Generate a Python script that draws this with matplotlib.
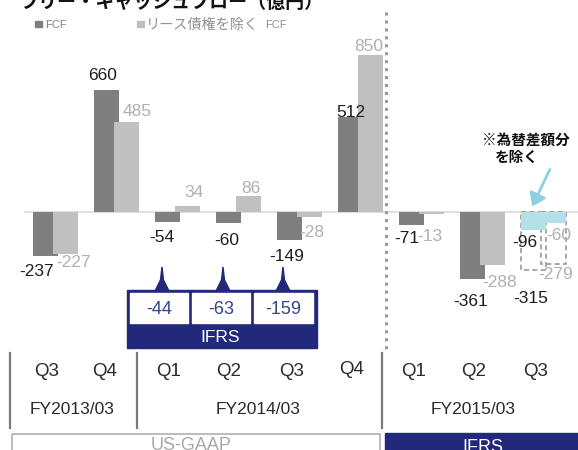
import matplotlib
matplotlib.use("Agg")
import matplotlib.pyplot as plt
from matplotlib.patches import Rectangle, Polygon, FancyArrowPatch

# ---------------- data ----------------
quarters = ["Q3", "Q4", "Q1", "Q2", "Q3", "Q4", "Q1", "Q2", "Q3"]
fiscal_years = ["FY2013/03", "FY2014/03", "FY2015/03"]
fcf = [-237, 660, -54, -60, -149, 512, -71, -361, -315]
fcf_ex_lease = [-227, 485, 34, 86, -28, 850, -13, -288, -279]
fx_excluded = [-96, -60]           # FY2015/03 Q3 excluding FX difference (FCF, ex-lease FCF)
ifrs_restated = [-44, -63, -159]   # FY2014/03 Q1-Q3 under IFRS
title = "フリー・キャッシュフロー（億円）"
legend_labels = ["FCF", "リース債権を除く", "FCF"]
note_lines = ["※為替差額分", "を除く"]
standards = ["US-GAAP", "IFRS"]

# ---------------- style ----------------
DARK = "#7f7f7f"
LIGHT = "#c0c0c0"
BLUE = "#b5e0ea"
NAVY = "#22287a"
NUM_NAVY = "#33448a"
W, H = 578, 450
PX = 61.0              # pixels per group
X0 = 55.5              # pixel x of first group centre
ZERO = 212.0           # pixel y of zero line
SC = 0.185             # pixels per unit
OFF = 10.0 / PX        # bar offset from group centre
BW = 25.0 / PX         # bar width

plt.rcParams['font.family'] = ['Liberation Sans', 'Noto Sans CJK JP']
JP = ['Noto Sans CJK JP', 'DejaVu Sans']

fig = plt.figure(figsize=(W / 100, H / 100), dpi=100)

# main data axes (positioned so zero line / scale match the reference)
ax_bot_px, ax_top_px = 300.0, 30.0
ax = fig.add_axes([0, (H - ax_bot_px) / H, 1, (ax_bot_px - ax_top_px) / H])
ax.set_xlim(-X0 / PX, (W - X0) / PX)
ax.set_ylim(-(ax_bot_px - ZERO) / SC, (ZERO - ax_top_px) / SC)
ax.axis('off')

n = len(fcf)
ax.axhline(0, xmin=25 / W, xmax=1, color="#d9d9d9", lw=1.2, zorder=1)

# solid bars for all but the last group
for i in range(n - 1):
    ax.bar(i - OFF, fcf[i], BW, color=DARK, zorder=2)
    ax.bar(i + OFF, fcf_ex_lease[i], BW, color=LIGHT, zorder=3)

# last group: dashed outlines for totals, blue bars for FX-excluded values
last = n - 1
ax.bar(last - OFF, fcf[last], BW, fill=False, edgecolor="#9a9a9a", ls=(0, (3, 2)), lw=1.2, zorder=2)
ax.bar(last + OFF, fcf_ex_lease[last], BW, fill=False, edgecolor="#9a9a9a", ls=(0, (3, 2)), lw=1.2, zorder=2)
ax.bar(last - OFF, fx_excluded[0], BW, color=BLUE, zorder=3)
ax.bar(last + OFF, fx_excluded[1], BW, color=BLUE, zorder=3)

# value labels (offsets in pixels from the bar end)
dark_off = [(-8.5, -16), (-3.5, 14), (-5.5, -16), (-2, -17), (-3, -17), (0, 5), (-5, -13), (-2, -23), (-2.5, -28)]
light_off = [(8, -9), (11, 11), (6.5, 13), (2, 8), (2, -15), (-2, 8), (-2, -22), (7, -17), (2.5, -11)]
for i in range(n):
    ax.annotate(f"{fcf[i]}", (i - OFF, fcf[i]), xytext=dark_off[i], textcoords='offset pixels',
                ha='center', va='center', fontsize=12.5, color="#1e1e1e", zorder=5)
    ax.annotate(f"{fcf_ex_lease[i]}", (i + OFF, fcf_ex_lease[i]), xytext=light_off[i],
                textcoords='offset pixels', ha='center', va='center', fontsize=12.5,
                color="#b0b0b0", zorder=5)
ax.annotate(f"{fx_excluded[0]}", (last - OFF, fx_excluded[0]), xytext=(-8.5, -13), textcoords='offset pixels',
            ha='center', va='center', fontsize=12.5, color="#1e1e1e", zorder=5)
ax.annotate(f"{fx_excluded[1]}", (last + OFF, fx_excluded[1]), xytext=(5.5, -12), textcoords='offset pixels',
            ha='center', va='center', fontsize=12.5, color="#b0b0b0", zorder=5)

# ---------------- overlay (decorations in pixel coordinates) ----------------
ov = fig.add_axes([0, 0, 1, 1])
ov.set_xlim(0, W)
ov.set_ylim(H, 0)
ov.axis('off')
ov.set_zorder(3)

# title (partially cut at the top, as in the reference)
ov.text(20, 8, title, fontsize=13.7, fontweight='bold', family=JP, ha='left', va='baseline', color="#111")

# legend
ov.add_patch(Rectangle((35, 21), 7, 6, color=DARK))
ov.text(45, 24.5, legend_labels[0], fontsize=8, color="#808080", va='center', ha='left')
ov.add_patch(Rectangle((137, 21), 7, 6, color=LIGHT))
ov.text(146, 24.5, legend_labels[1], fontsize=10.2, color="#909090", va='center', ha='left', family=JP)
ov.text(265, 25.5, legend_labels[2], fontsize=8, color="#909090", va='center', ha='left')

# dotted divider
ov.plot([386, 386], [12, 352], ls=(0, (1, 1.6)), color="#9a9a9a", lw=2.2)

# note + arrow
ov.text(526, 140, note_lines[0], fontsize=10.5, fontweight='bold', family=JP, ha='center', va='center', color="#111")
ov.text(517, 157, note_lines[1], fontsize=10.5, fontweight='bold', family=JP, ha='center', va='center', color="#111")
ov.add_patch(FancyArrowPatch((551, 167), (531, 209), arrowstyle='-|>,head_length=5,head_width=3.5',
                             color="#8fd0e0", lw=2, mutation_scale=1.5))

# IFRS restated box
ov.add_patch(Rectangle((127, 290), 190, 58, color=NAVY))
cells = [(130, 188), (192, 250), (254, 313)]
for (x0, x1), v in zip(cells, ifrs_restated):
    ov.add_patch(Rectangle((x0, 293), x1 - x0, 30, color="white"))
    ov.text((x0 + x1) / 2, 310, f"{v}", fontsize=13, color=NUM_NAVY, ha='center', va='center')
ov.text(220, 337, standards[1], fontsize=12.5, color="white", ha='center', va='center')
for cx in [162, 223, 283]:
    ov.add_patch(Polygon([(cx, 267), (cx - 1.5, 280), (cx - 7, 291), (cx + 7, 291), (cx + 1.5, 280)],
                         closed=True, color=NAVY))

# category axis
q_x = [47, 105, 169, 229, 292, 352, 414, 474, 536]
q_y = [372, 372, 372, 372, 372, 369, 372, 372, 372]
for q, x, y in zip(quarters, q_x, q_y):
    ov.text(x, y, q, fontsize=13.5, color="#2a2a2a", ha='center', va='center')
for fy, x in zip(fiscal_years, [72, 258, 473]):
    ov.text(x, 410, fy, fontsize=12.5, color="#2a2a2a", ha='center', va='center')
for x in [10, 137, 382]:
    ov.plot([x, x], [353, 428], color="#7a7a7a", lw=1.6)

# accounting standard bands (cut by the bottom edge, as in the reference)
ov.add_patch(Rectangle((12, 434), 368, 30, fill=False, edgecolor="#b0b0b0", lw=1.2))
ov.text(191, 446, standards[0], fontsize=13, color="#a8a8a8", ha='center', va='center')
ov.add_patch(Rectangle((385, 433), 200, 30, color=NAVY))
ov.text(483, 447, standards[1], fontsize=13, color="white", ha='center', va='center')

fig.savefig("out.png", dpi=100)
